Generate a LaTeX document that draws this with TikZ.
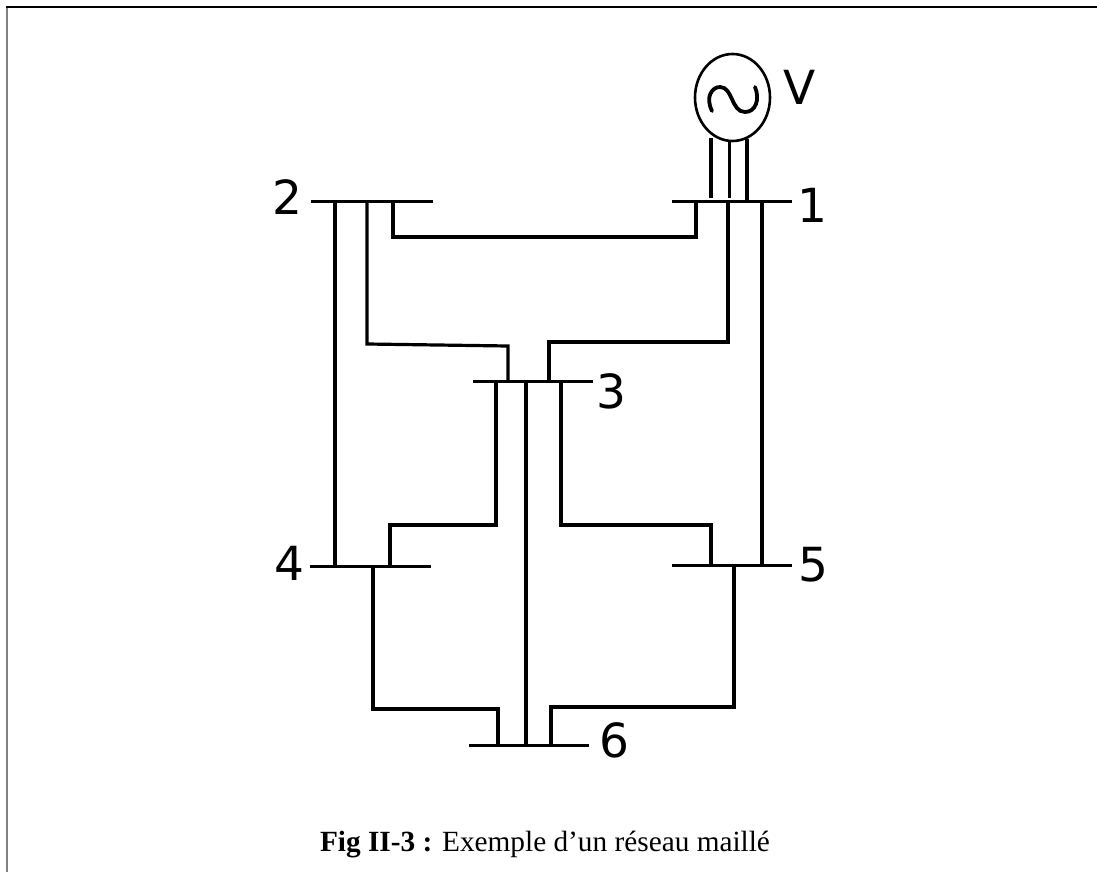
\documentclass[tikz,border=0pt]{standalone}
\usepackage{fontspec}
\usetikzlibrary{shapes.geometric}
\setmainfont{Liberation Serif}
\newfontfamily\labfont{DejaVu Sans}
\begin{document}
\begin{tikzpicture}[x=1pt,y=-1pt,
  wire/.style={line width=3.2pt,black,line join=miter},
  lab/.style={font=\labfont\fontsize{47}{47}\selectfont,inner sep=0pt,anchor=center},
  gen/.style={draw,line width=2.6pt,ellipse,minimum width=75pt,minimum height=87pt,inner sep=0pt}]
\useasboundingbox (0,0) rectangle (1097,872);
\draw[line width=2pt,gray] (7,872) -- (7,7);
\draw[line width=2pt,black] (6,7) -- (1097,7);
% generator
\node[gen] (G) at (732.5,97.5) {};
\draw[line width=3.8pt,line cap=round] (712,111) .. controls (705,97) and (712,87) .. (720,87) .. controls (733,87) and (731,112) .. (745,112) .. controls (756,112) and (760,99) .. (755,87);
\node[lab] (V) at (799.5,87) {V};
% buses
\coordinate (b1w) at (672,201.5); \coordinate (b1e) at (792,201.5);
\coordinate (b2w) at (311,201.5); \coordinate (b2e) at (433,201.5);
\coordinate (b3w) at (473,381.5); \coordinate (b3e) at (593,381.5);
\coordinate (b4w) at (310,566.5); \coordinate (b4e) at (431,566.5);
\coordinate (b5w) at (672,565.5); \coordinate (b5e) at (792,565.5);
\coordinate (b6w) at (469,745.5); \coordinate (b6e) at (589,745.5);
\foreach \b in {b1,b2,b3,b4,b5,b6} \draw[wire] (\b w) -- (\b e);
\node[lab] (n1) at (812,205) {1};
\node[lab] (n2) at (287,197) {2};
\node[lab] (n3) at (611,391) {3};
\node[lab] (n4) at (289,563) {4};
\node[lab] (n5) at (813,565) {5};
\node[lab] (n6) at (614,740) {6};
% generator leads
\draw[wire] (711,138) -- (711,198);
\draw[wire] (729.5,142) -- (729.5,198);
\draw[wire] (747,139) -- (747,201);
% connectors
\draw[wire] (696,0 |- b1w) -- (696,237) -- (393,237) -- (393,0 |- b2w);
\draw[wire] (728,0 |- b1w) -- (728,342) -- (549,342) -- (549,0 |- b3w);
\draw[wire] (762,0 |- b1w) -- (762,0 |- b5w);
\draw[wire] (335,0 |- b2w) -- (335,0 |- b4w);
\draw[wire] (367,0 |- b2w) -- (367,344) -- (508,346) -- (508,0 |- b3w);
\draw[wire] (496,0 |- b3w) -- (496,525) -- (390,525) -- (390,0 |- b4w);
\draw[wire] (561,0 |- b3w) -- (561,525) -- (711,525) -- (711,0 |- b5w);
\draw[wire] (526,0 |- b3w) -- (526,0 |- b6w);
\draw[wire] (373,0 |- b4w) -- (373,709) -- (498,709) -- (498,0 |- b6w);
\draw[wire] (734,0 |- b5w) -- (734,707) -- (551,707) -- (551,0 |- b6w);
\node[font=\fontsize{29.3}{30}\selectfont,inner sep=0pt] (cap) at (545,845) {\textbf{Fig II-3 :} Exemple d’un réseau maillé};
\end{tikzpicture}
\end{document}
